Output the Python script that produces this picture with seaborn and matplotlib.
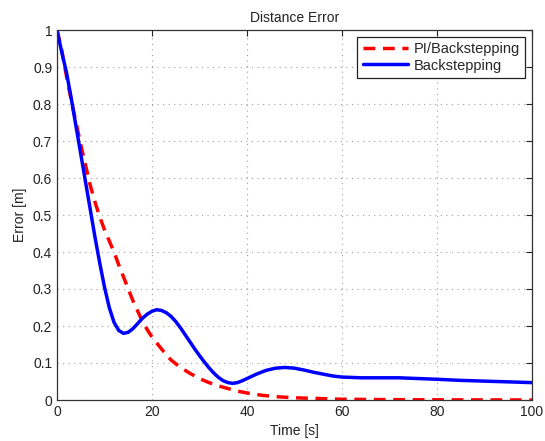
import pandas as pd
import matplotlib
matplotlib.use("Agg")
import matplotlib.pyplot as plt
import seaborn as sns

# values
t_pi = [0, 1, 2, 3, 4, 5, 6, 7, 8, 9, 10, 11, 12, 13, 14, 15, 16, 17, 18, 19, 20,
        22, 24, 26, 28, 30, 32, 34, 36, 38, 40, 43, 46, 50, 55, 60, 70, 80, 90, 100]
err_pi = [1.0, 0.945, 0.875, 0.81, 0.75, 0.69, 0.635, 0.58, 0.535, 0.495, 0.46,
          0.43, 0.40, 0.365, 0.333, 0.30, 0.268, 0.24, 0.212, 0.19, 0.17,
          0.138, 0.108, 0.088, 0.072, 0.058, 0.047, 0.038, 0.031, 0.024, 0.019,
          0.013, 0.009, 0.006, 0.004, 0.002, 0.001, 0.0005, 0.0002, 0.0]

t_bs = [0, 1, 2, 3, 4, 5, 6, 7, 8, 9, 10, 11, 12, 13, 14, 15, 16, 17, 18, 19, 20,
        21, 22, 23, 24, 25, 26, 27, 28, 29, 30, 31, 32, 33, 34, 35, 36, 37, 38, 39,
        40, 42, 44, 46, 48, 50, 52, 54, 56, 58, 60, 64, 68, 72, 76, 80, 85, 90, 95, 100]
err_bs = [1.0, 0.94, 0.885, 0.815, 0.74, 0.665, 0.59, 0.515, 0.44, 0.37, 0.305,
          0.25, 0.21, 0.188, 0.18, 0.183, 0.193, 0.207, 0.221, 0.232, 0.24,
          0.244, 0.242, 0.236, 0.226, 0.212, 0.195, 0.176, 0.157, 0.138, 0.12,
          0.103, 0.087, 0.073, 0.061, 0.052, 0.047, 0.045, 0.047, 0.052,
          0.058, 0.07, 0.08, 0.086, 0.088, 0.086, 0.081, 0.075, 0.07, 0.065,
          0.062, 0.06, 0.06, 0.06, 0.058, 0.056, 0.053, 0.051, 0.049, 0.047]

x_ticks = [0, 20, 40, 60, 80, 100]
y_ticks = [0, 0.1, 0.2, 0.3, 0.4, 0.5, 0.6, 0.7, 0.8, 0.9, 1]
y_labels = ["0", "0.1", "0.2", "0.3", "0.4", "0.5", "0.6", "0.7", "0.8", "0.9", "1"]

sns.set_style("white")
plt.rcParams["font.family"] = ["Liberation Sans", "DejaVu Sans"]

fig = plt.figure(figsize=(5.45, 4.41), dpi=100)
ax = fig.add_axes([57 / 545, 1 - 400 / 441, 475 / 545, 370 / 441])

sns.lineplot(x=t_pi, y=err_pi, ax=ax, color="red", linewidth=2.5,
             linestyle=(0, (3.4, 2.2)), label="PI/Backstepping")
sns.lineplot(x=t_bs, y=err_bs, ax=ax, color="blue", linewidth=2.5,
             label="Backstepping")

ax.set_xlim(0, 100)
ax.set_ylim(0, 1)
ax.set_xticks(x_ticks)
ax.set_xticklabels([str(v) for v in x_ticks])
ax.set_yticks(y_ticks)
ax.set_yticklabels(y_labels)
ax.grid(True, linestyle=(0, (1, 4)), color="#a0a0a0", linewidth=0.8)
ax.tick_params(direction="in", top=True, right=True, length=4, width=0.8,
               labelsize=10, colors="#222222")
for s in ax.spines.values():
    s.set_color("#333333")
    s.set_linewidth(0.9)

ax.set_title("Distance Error", fontsize=10, color="#222222")
ax.set_xlabel("Time [s]", fontsize=10, color="#222222")
ax.set_ylabel("Error [m]", fontsize=10, color="#222222")

leg = ax.legend(loc="upper right", fontsize=10.5, handlelength=3.1,
                fancybox=False, framealpha=1, borderaxespad=0.45,
                borderpad=0.4, labelspacing=0.15, handletextpad=0.35)
leg.get_frame().set_edgecolor("#222222")
leg.get_frame().set_linewidth(0.9)

fig.savefig("out.png", dpi=100)
